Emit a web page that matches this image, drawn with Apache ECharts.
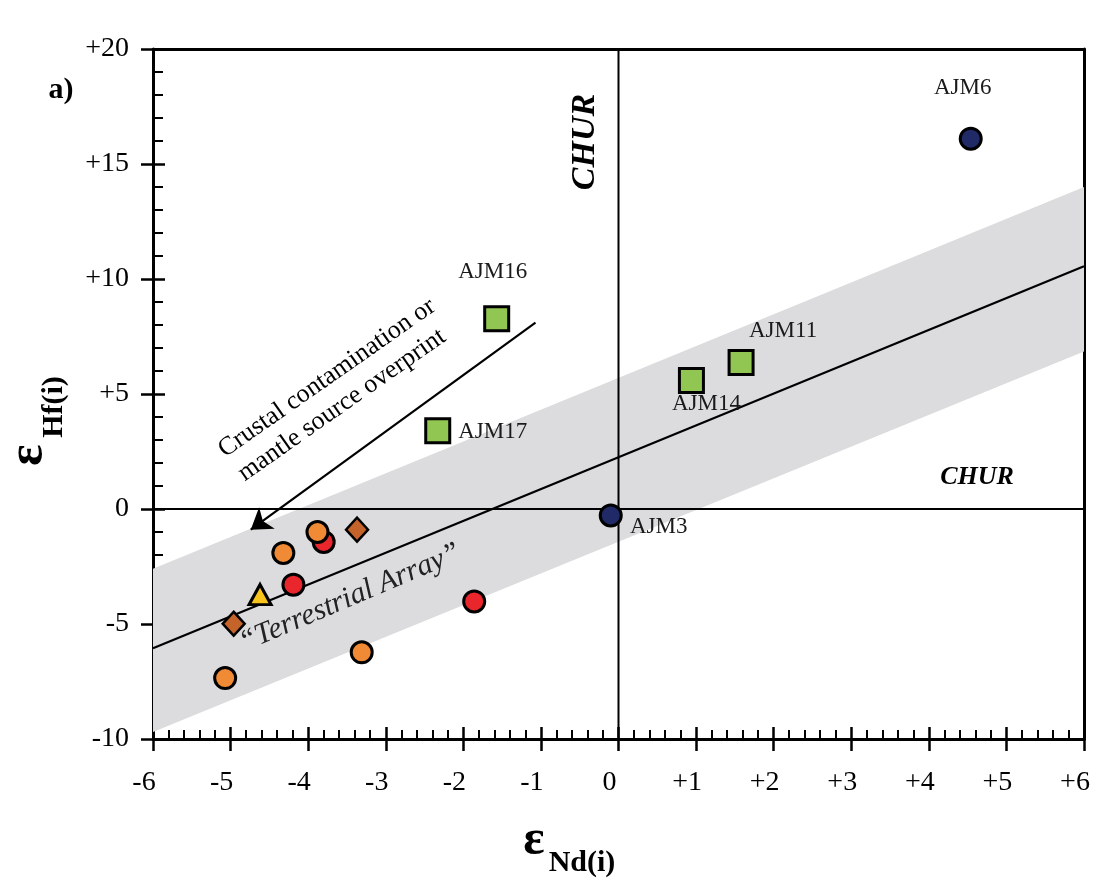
<!DOCTYPE html>
<html><head><meta charset="utf-8">
<script src="https://cdn.jsdelivr.net/npm/echarts@6/dist/echarts.min.js"></script>
<style>html,body{margin:0;padding:0;background:#fff}#c{width:1106px;height:884px}</style>
</head><body><div id="c"></div>
<script>
// ---- data ----
const xTicks = [-6,-5,-4,-3,-2,-1,0,1,2,3,4,5,6];
const xTickLabels = ['-6','-5','-4','-3','-2','-1','0','+1','+2','+3','+4','+5','+6'];
const yTicks = [-10,-5,0,5,10,15,20];
const yTickLabels = ['-10','-5','0','+5','+10','+15','+20'];

const navyNames = ['AJM6','AJM3'];
const navyValues = [[4.54,16.1],[-0.10,-0.28]];
const greenNames = ['AJM16','AJM17','AJM14','AJM11'];
const greenValues = [[-1.57,8.27],[-2.33,3.40],[0.94,5.59],[1.58,6.37]];
const redCircles = [[-3.80,-1.43],[-4.19,-3.29],[-1.86,-4.02]];
const orangeCircles = [[-4.32,-1.91],[-3.88,-1.00],[-5.07,-7.35],[-3.31,-6.23]];
const brownDiamonds = [[-3.37,-0.90],[-4.96,-4.99]];
const yellowTriangles = [[-4.62,-3.72]];
const arrayLine = [[-6,-6.05],[6,10.55]];
const bandUpper = [[-6,-2.6],[6,14.0]];
const bandLower = [[-6,-9.7],[6,6.85]];
const churH = [[-6,0],[6,0]];
const churV = [[0,-10],[0,20]];
const trendArrow = [[-1.07,8.1],[-4.74,-0.9]];

// ---- styles ----
const FONT = '"Liberation Serif","Times New Roman",serif';
const labelOffsets = {AJM6:[-8,-51],AJM3:[48,12],AJM16:[-4,-47],AJM17:[55,1],AJM14:[15,24],AJM11:[42,-32]};

function fmt(ticks, labels){ return v => { const i = ticks.indexOf(Math.round(v)); return i>=0 ? labels[i] : ''; }; }
function named(names, values){
  return values.map((v,i)=>({value:v,name:names[i],label:{show:true,formatter:'{b}',position:'inside',
    offset:labelOffsets[names[i]],color:'#1a1a1a',fontFamily:FONT,fontSize:23}}));
}
const black = '#000';
const chart = echarts.init(document.getElementById('c'), null, {renderer:'canvas'});
const baseX = {type:'value',min:-6,max:6,interval:1,splitLine:{show:false}};
const baseY = {type:'value',min:-10,max:20,interval:5,splitLine:{show:false}};
const option = {
  animation:false,
  backgroundColor:'#fff',
  grid:{left:153,right:22,top:49,bottom:145,containLabel:false,outerBoundsMode:'none'},
  xAxis:[
    Object.assign({},baseX,{position:'bottom',axisLine:{onZero:false,lineStyle:{color:black,width:3}},
      axisTick:{inside:false,length:12,lineStyle:{color:black,width:2.5}},
      axisLabel:{formatter:fmt(xTicks,xTickLabels),fontFamily:FONT,fontSize:28,color:black,margin:30,padding:[0,18,0,0]}}),
    Object.assign({},baseX,{position:'bottom',axisLine:{show:false,onZero:false},
      axisTick:{inside:true,length:12,lineStyle:{color:black,width:2.5}},
      minorTick:{show:true,splitNumber:5,length:9,lineStyle:{color:black,width:2}},
      axisLabel:{show:false}}),
    Object.assign({},baseX,{position:'top',axisLine:{onZero:false,lineStyle:{color:black,width:3}},axisTick:{show:false},axisLabel:{show:false}})
  ],
  yAxis:[
    Object.assign({},baseY,{position:'left',axisLine:{onZero:false,lineStyle:{color:black,width:3}},
      axisTick:{inside:false,length:12,lineStyle:{color:black,width:2.5}},
      axisLabel:{formatter:fmt(yTicks,yTickLabels),fontFamily:FONT,fontSize:28,color:black,margin:24}}),
    Object.assign({},baseY,{position:'left',axisLine:{show:false,onZero:false},
      axisTick:{inside:true,length:12,lineStyle:{color:black,width:2.5}},
      minorTick:{show:true,splitNumber:5,length:10,lineStyle:{color:black,width:2}},
      axisLabel:{show:false}}),
    Object.assign({},baseY,{position:'right',axisLine:{onZero:false,lineStyle:{color:black,width:3}},axisTick:{show:false},axisLabel:{show:false}})
  ],
  series:[
    {type:'custom',silent:true,z:1,data:[[0,0]],
      renderItem:(params,api)=>{
        const pts = bandUpper.concat(bandLower.slice().reverse()).map(p=>api.coord(p));
        return {type:'polygon',shape:{points:pts},style:{fill:'#DCDCDE'}};
      }},
    {type:'line',data:churH,symbol:'none',silent:true,z:2,lineStyle:{color:black,width:2}},
    {type:'line',data:churV,symbol:'none',silent:true,z:2,lineStyle:{color:black,width:2}},
    {type:'line',data:arrayLine,symbol:'none',silent:true,z:2,lineStyle:{color:black,width:2.2}},
    {type:'lines',coordinateSystem:'cartesian2d',silent:true,z:2,symbol:['none','arrow'],symbolSize:[0,20],
      lineStyle:{color:black,width:2.2,opacity:1},data:[{coords:trendArrow}]},
    {type:'scatter',z:5,data:named(navyNames,navyValues),symbol:'circle',symbolSize:21,
      itemStyle:{color:'#1F2A66',borderColor:black,borderWidth:3,opacity:1}},
    {type:'scatter',z:5,data:named(greenNames,greenValues),symbol:'rect',symbolSize:24,
      itemStyle:{color:'#92C653',borderColor:black,borderWidth:3,opacity:1}},
    {type:'scatter',z:5,data:redCircles,symbol:'circle',symbolSize:21,
      itemStyle:{color:'#E8262B',borderColor:black,borderWidth:3,opacity:1}},
    {type:'scatter',z:6,data:orangeCircles,symbol:'circle',symbolSize:21,
      itemStyle:{color:'#F08A34',borderColor:black,borderWidth:3,opacity:1}},
    {type:'scatter',z:5,data:brownDiamonds,symbol:'diamond',symbolSize:[22,24],
      itemStyle:{color:'#C4632A',borderColor:black,borderWidth:2.5,opacity:1}},
    {type:'scatter',z:5,data:yellowTriangles,symbol:'triangle',symbolSize:[22,20],
      itemStyle:{color:'#F7C31C',borderColor:black,borderWidth:3,opacity:1}}
  ],
  graphic:[
    {type:'text',x:61,y:90,style:{text:'a)',font:'bold 30px '+FONT,fill:black,align:'center',verticalAlign:'middle'}},
    {type:'text',x:534,y:841,style:{text:'ε',font:'bold 50px '+FONT,fill:black,align:'center',verticalAlign:'middle'}},
    {type:'text',x:582,y:863,style:{text:'Nd(i)',font:'bold 30px '+FONT,fill:black,align:'center',verticalAlign:'middle'}},
    {type:'text',x:29,y:455,rotation:Math.PI/2,style:{text:'ε',font:'bold 50px '+FONT,fill:black,align:'center',verticalAlign:'middle'}},
    {type:'text',x:54,y:407,rotation:Math.PI/2,style:{text:'Hf(i)',font:'bold 30px '+FONT,fill:black,align:'center',verticalAlign:'middle'}},
    {type:'text',x:585,y:142,rotation:Math.PI/2,style:{text:'CHUR',font:'italic bold 34px '+FONT,fill:black,align:'center',verticalAlign:'middle'}},
    {type:'text',x:977,y:477,style:{text:'CHUR',font:'italic bold 26px '+FONT,fill:black,align:'center',verticalAlign:'middle'}},
    {type:'text',x:327,y:378,rotation:35*Math.PI/180,style:{text:'Crustal contamination or',font:'26px '+FONT,fill:black,align:'center',verticalAlign:'middle'}},
    {type:'text',x:342,y:405,rotation:35*Math.PI/180,style:{text:'mantle source overprint',font:'26px '+FONT,fill:black,align:'center',verticalAlign:'middle'}},
    {type:'text',x:350,y:598,rotation:23*Math.PI/180,z:3,style:{text:'\u201CTerrestrial Array\u201D',font:'italic 30px '+FONT,fill:'#222',align:'center',verticalAlign:'middle'}}
  ]
};
chart.setOption(option);
</script></body></html>
